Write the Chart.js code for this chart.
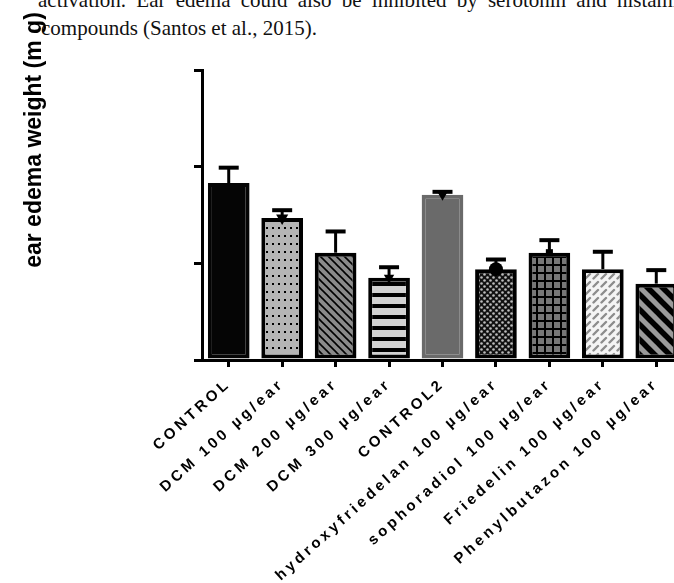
<!DOCTYPE html>
<html>
<head>
<meta charset="utf-8">
<script src="https://cdn.jsdelivr.net/npm/chart.js@4"></script>
<style>
  html, body { margin: 0; padding: 0; background: #fff; }
  #wrap { position: relative; width: 674px; height: 583px; overflow: hidden; }
  .txt { position: absolute; font-family: "Liberation Serif", "Times New Roman", serif; font-size: 21px; line-height: 24px; color: #111; white-space: nowrap; }
  #chart { position: absolute; left: 0; top: 0; }
</style>
</head>
<body>
<div id="wrap">
  <div class="txt" style="left:38px; top:-12px; word-spacing:5px;">activation. Ear edema could also be inhibited by serotonin and histamine</div>
  <div class="txt" style="left:41px; top:16px;">compounds (Santos et al., 2015).</div>
  <canvas id="chart" width="700" height="583"></canvas>
</div>
<script>
const categories = ['CONTROL', 'DCM 100 µg/ear', 'DCM 200 µg/ear', 'DCM 300 µg/ear', 'CONTROL2',
  'hydroxyfriedelan 100 µg/ear', 'sophoradiol 100 µg/ear', 'Friedelin 100 µg/ear', 'Phenylbutazon 100 µg/ear'];
const means = [18.3, 14.7, 11.1, 8.5, 17.1, 9.4, 11.1, 9.4, 7.9];
const errors = [1.7, 0.9, 2.3, 1.2, 0.4, 1.1, 1.4, 1.9, 1.5];
const yTicks = [0, 10, 20, 30];
const yLabel = 'ear edema weight (m g)';

// marker shown at each mean (GraphPad style)
const markerStyle = ['circle', 'triangle', 'circle', 'triangle', 'triangle', 'circle', 'rect', 'circle', 'circle'];
const markerSize = [0, 7, 0, 6, 6, 7, 5, 0, 0];

function pattern(w, h, draw) {
  const c = document.createElement('canvas');
  c.width = w; c.height = h;
  const g = c.getContext('2d');
  draw(g, w, h);
  return g.createPattern(c, 'repeat');
}

const fills = [
  '#050505',
  pattern(6, 8, (g, w, h) => { g.fillStyle = '#b5b5b5'; g.fillRect(0, 0, w, h); g.fillStyle = '#000'; g.fillRect(2, 3, 2, 2); }),
  pattern(8, 8, (g, w, h) => {
    g.fillStyle = '#8a8a8a'; g.fillRect(0, 0, w, h);
    g.strokeStyle = '#000'; g.lineWidth = 1.6;
    for (let k = -1; k <= 1; k++) { g.beginPath(); g.moveTo(k * w - 1, -1); g.lineTo(k * w + w + 1, h + 1); g.stroke(); }
  }),
  pattern(4, 11, (g, w, h) => { g.fillStyle = '#d2d2d2'; g.fillRect(0, 0, w, h); g.fillStyle = '#000'; g.fillRect(0, 7, w, 4); }),
  '#6a6a6a',
  pattern(6, 6, (g, w, h) => {
    g.fillStyle = '#111'; g.fillRect(0, 0, w, h);
    g.fillStyle = '#bdbdbd';
    [[1.5, 1.5], [4.5, 4.5]].forEach(([x, y]) => { g.beginPath(); g.arc(x, y, 1.3, 0, Math.PI * 2); g.fill(); });
  }),
  pattern(8, 8, (g, w, h) => { g.fillStyle = '#777'; g.fillRect(0, 0, w, h); g.fillStyle = '#000'; g.fillRect(0, 0, w, 2); g.fillRect(0, 0, 2, h); }),
  pattern(8, 8, (g, w, h) => {
    g.fillStyle = '#f4f4f4'; g.fillRect(0, 0, w, h);
    g.strokeStyle = '#8c8c8c'; g.lineWidth = 2.4; g.lineCap = 'round';
    g.beginPath(); g.moveTo(1.5, 6.5); g.lineTo(6, 2); g.stroke();
  }),
  pattern(15, 15, (g, w, h) => {
    g.fillStyle = '#9a9a9a'; g.fillRect(0, 0, w, h);
    g.strokeStyle = '#000'; g.lineWidth = 5.5;
    for (let k = -1; k <= 1; k++) { g.beginPath(); g.moveTo(k * w - 2, -2); g.lineTo(k * w + w + 2, h + 2); g.stroke(); }
  })
];
const borders = ['#050505', '#000', '#000', '#000', '#6a6a6a', '#000', '#000', '#000', '#000'];

const errorBars = {
  id: 'errorBars',
  afterDatasetsDraw(chart) {
    const { ctx, scales: { y } } = chart;
    const meta = chart.getDatasetMeta(0);
    ctx.save();
    ctx.strokeStyle = '#000';
    meta.data.forEach((bar, i) => {
      const top = y.getPixelForValue(means[i] + errors[i]);
      ctx.lineWidth = 3;
      ctx.beginPath(); ctx.moveTo(bar.x, bar.y); ctx.lineTo(bar.x, top); ctx.stroke();
      ctx.lineWidth = 4;
      ctx.beginPath(); ctx.moveTo(bar.x - 10, top + 1); ctx.lineTo(bar.x + 10, top + 1); ctx.stroke();
    });
    ctx.restore();
  }
};

// wide-spaced tick labels like the Prism export, plus the y title
const spacing = {
  id: 'spacing',
  beforeDraw(chart) { chart.ctx.letterSpacing = '3.5px'; },
  afterDraw(chart) {
    const ctx = chart.ctx;
    ctx.letterSpacing = '0px';
    ctx.save();
    ctx.translate(41, 140);
    ctx.rotate(-Math.PI / 2);
    ctx.font = 'bold 23px "Liberation Sans", Arial, sans-serif';
    ctx.fillStyle = '#000';
    ctx.textAlign = 'center';
    ctx.textBaseline = 'alphabetic';
    ctx.fillText(yLabel, 0, 0);
    ctx.restore();
  }
};

new Chart(document.getElementById('chart'), {
  type: 'bar',
  data: {
    labels: categories,
    datasets: [{
      data: means,
      backgroundColor: fills,
      borderColor: borders,
      borderWidth: 4,
      borderSkipped: false,
      barPercentage: 0.78,
      categoryPercentage: 1,
      order: 2
    }, {
      type: 'line',
      data: means,
      showLine: false,
      pointStyle: markerStyle,
      pointRadius: markerSize,
      pointRotation: markerStyle.map(s => s === 'triangle' ? 180 : 0),
      pointBackgroundColor: '#000',
      pointBorderColor: '#000',
      pointBorderWidth: 0,
      order: 1
    }]
  },
  options: {
    responsive: false,
    animation: false,
    layout: { padding: { top: 70, right: 17, left: 0, bottom: 0 } },
    plugins: { legend: { display: false }, tooltip: { enabled: false } },
    scales: {
      x: {
        afterFit: s => { s.height = 223; },
        grid: { offset: false, drawOnChartArea: false, color: '#000', lineWidth: 3, tickLength: 7 },
        border: { color: '#000', width: 3 },
        ticks: {
          autoSkip: false, minRotation: 42, maxRotation: 42, padding: 8, color: '#000',
          font: { family: '"Liberation Sans", Arial, sans-serif', weight: 'bold', size: 15 }
        }
      },
      y: {
        min: yTicks[0],
        max: yTicks[yTicks.length - 1],
        afterFit: s => { s.width = 202; },
        afterBuildTicks: s => { s.ticks = yTicks.map(v => ({ value: v })); },
        grid: { drawOnChartArea: false, color: '#000', lineWidth: 3, tickLength: 8 },
        border: { color: '#000', width: 3 },
        ticks: { display: false }
      }
    }
  },
  plugins: [errorBars, spacing]
});
</script>
</body>
</html>
